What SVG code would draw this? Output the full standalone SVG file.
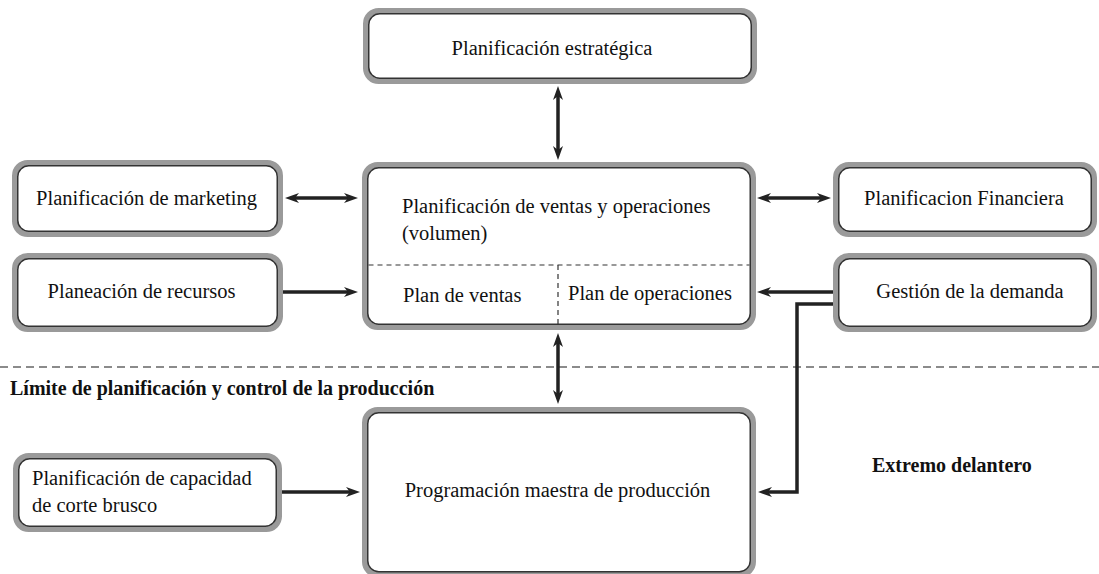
<svg xmlns="http://www.w3.org/2000/svg" width="1099" height="574" viewBox="0 0 1099 574">
<style>
.g{fill:none;stroke:#9a9a9a;stroke-width:5.5}
.d{fill:#fff;stroke:#333;stroke-width:1.5}
.t{font-family:"Liberation Serif","Times New Roman",serif;font-size:20.5px;fill:#111}
.c{text-anchor:middle}
.b{font-weight:bold;font-size:20px}
.a{fill:none;stroke:#222;stroke-width:3.5}
.dash{fill:none;stroke:#333;stroke-width:1.2;stroke-dasharray:5 4}
</style>
<defs>
<marker id="ah" viewBox="0 0 14 10" refX="6" refY="5" markerWidth="14" markerHeight="10" markerUnits="userSpaceOnUse" orient="auto-start-reverse">
<path d="M0,0 L14,5 L0,10 L4,5 z" fill="#222"/>
</marker>
</defs>
<rect width="1099" height="574" fill="#fff"/>

<g id="limite">
<line x1="0" y1="367" x2="1099" y2="367" stroke="#666" stroke-width="1.5" stroke-dasharray="8 5"/>
<text class="t b" x="10" y="395">Límite de planificación y control de la producción</text>
</g>

<g id="extremo">
<text class="t b" x="872" y="472">Extremo delantero</text>
</g>

<g id="estrategica">
<rect class="g" x="365.75" y="10.75" width="388.5" height="70.5" rx="13"/>
<rect class="d" x="368.75" y="13.75" width="382.5" height="64.5" rx="11"/>
<text class="t c" x="552" y="55">Planificación estratégica</text>
</g>

<g id="marketing">
<rect class="g" x="14.75" y="162.75" width="265.5" height="71.5" rx="13"/>
<rect class="d" x="17.75" y="165.75" width="259.5" height="65.5" rx="11"/>
<text class="t c" x="146.5" y="205">Planificación de marketing</text>
</g>

<g id="recursos">
<rect class="g" x="14.75" y="255.75" width="265.5" height="73.5" rx="13"/>
<rect class="d" x="17.75" y="258.75" width="259.5" height="67.5" rx="11"/>
<text class="t c" x="141.5" y="298">Planeación de recursos</text>
</g>

<g id="ventas-operaciones">
<rect class="g" x="364.75" y="164.75" width="388.5" height="162.5" rx="13"/>
<rect class="d" x="367.75" y="167.75" width="382.5" height="156.5" rx="11"/>
<text class="t" x="402" y="213">Planificación de ventas y operaciones</text>
<text class="t" x="402" y="240">(volumen)</text>
<line class="dash" x1="368.5" y1="265" x2="749.5" y2="265"/>
<line class="dash" x1="558" y1="265" x2="558" y2="324"/>
<text class="t" x="403" y="302">Plan de ventas</text>
<text class="t" x="568" y="300">Plan de operaciones</text>
</g>

<g id="financiera">
<rect class="g" x="835.75" y="164.75" width="258.5" height="69.5" rx="13"/>
<rect class="d" x="838.75" y="167.75" width="252.5" height="63.5" rx="11"/>
<text class="t c" x="964" y="205">Planificacion Financiera</text>
</g>

<g id="demanda">
<rect class="g" x="835.75" y="255.75" width="258.5" height="73.5" rx="13"/>
<rect class="d" x="838.75" y="258.75" width="252.5" height="67.5" rx="11"/>
<text class="t c" x="970" y="298">Gestión de la demanda</text>
</g>

<g id="capacidad">
<rect class="g" x="15.75" y="455.75" width="263.5" height="73.5" rx="13"/>
<rect class="d" x="18.75" y="458.75" width="257.5" height="67.5" rx="11"/>
<text class="t" x="32" y="485">Planificación de capacidad</text>
<text class="t" x="32" y="512">de corte brusco</text>
</g>

<g id="maestra">
<rect class="g" x="364.75" y="409.75" width="388.5" height="165" rx="13"/>
<rect class="d" x="367.75" y="412.75" width="382.5" height="159" rx="11"/>
<text class="t c" x="557.5" y="497">Programación maestra de producción</text>
</g>

<g id="connectors">
<line class="a" x1="558" y1="94" x2="558" y2="152" marker-start="url(#ah)" marker-end="url(#ah)"/>
<line class="a" x1="293" y1="198" x2="350" y2="198" marker-start="url(#ah)" marker-end="url(#ah)"/>
<line class="a" x1="765" y1="198" x2="823" y2="198" marker-start="url(#ah)" marker-end="url(#ah)"/>
<line class="a" x1="283" y1="292" x2="350" y2="292" marker-end="url(#ah)"/>
<line class="a" x1="833" y1="292" x2="765" y2="292" marker-end="url(#ah)"/>
<polyline class="a" points="833,304 797,304 797,492 766,492" marker-end="url(#ah)"/>
<line class="a" x1="558" y1="341" x2="558" y2="396" marker-start="url(#ah)" marker-end="url(#ah)"/>
<line class="a" x1="282" y1="492" x2="352" y2="492" marker-end="url(#ah)"/>
</g>
</svg>
